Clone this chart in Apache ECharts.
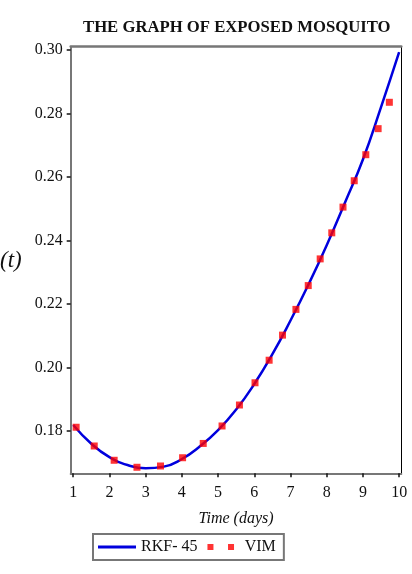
<!DOCTYPE html>
<html>
<head>
<meta charset="utf-8">
<script src="https://cdn.jsdelivr.net/npm/echarts@6/dist/echarts.min.js"></script>
<style>
  html, body { margin: 0; padding: 0; background: #fff; }
  #chart { width: 412px; height: 574px; }
</style>
</head>
<body>
<div id="chart"></div>
<script>
// RKF-45 curve
const rkfT = [1, 1.5, 2, 2.5, 3, 3.5, 4, 4.5, 5, 5.5, 6, 6.5, 7, 7.5, 8, 8.5, 9, 9.5, 10];
const rkfE = [0.1819, 0.1760, 0.1718, 0.1693, 0.1683, 0.1688, 0.1712, 0.1752, 0.1803, 0.1868,
              0.1948, 0.2042, 0.2148, 0.2262, 0.2385, 0.2518, 0.2655, 0.2820, 0.2993];

// VIM points
const vimT = [1.08, 1.58, 2.13, 2.76, 3.41, 4.02, 4.59, 5.11, 5.59, 6.02, 6.41,
              6.78, 7.15, 7.49, 7.82, 8.14, 8.45, 8.76, 9.08, 9.42, 9.73];
const vimE = [0.1812, 0.1753, 0.1708, 0.1686, 0.1690, 0.1716, 0.1761, 0.1816, 0.1882, 0.1952, 0.2023,
              0.2102, 0.2183, 0.2258, 0.2342, 0.2424, 0.2505, 0.2588, 0.2670, 0.2752, 0.2835];

const xTicks = [1, 2, 3, 4, 5, 6, 7, 8, 9, 10];
const yTicks = [0.18, 0.20, 0.22, 0.24, 0.26, 0.28, 0.30];

const serif = "'Liberation Serif', 'DejaVu Serif', serif";
const xMin = 0.93, xMax = 10.06, yMin = 0.1667, yMax = 0.301;

let myChart = echarts.init(document.getElementById("chart"));
let option = {
  backgroundColor: "#fff",
  animation: false,
  title: {
    text: "THE GRAPH OF EXPOSED MOSQUITO",
    left: 78,
    top: 14,
    textStyle: { fontFamily: serif, fontWeight: "bold", fontSize: 16.7, color: "#111" },
  },
  grid: { left: 70.7, right: 10.7, top: 46.7, bottom: 100.7 },
  legend: {
    left: 93,
    top: 534,
    width: 200,
    height: 26,
    padding: [5, 8, 5, 5],
    borderColor: "#777",
    borderWidth: 2,
    borderRadius: 0,
    itemGap: 10,
    itemWidth: 38,
    itemHeight: 6,
    textStyle: { fontFamily: serif, fontSize: 16, color: "#111" },
    data: [
      { name: "RKF- 45", icon: "path://M0,0H38V3H0Z", itemStyle: { color: "#0000dd" } },
      { name: "VIM", icon: "path://M0,0H7V7H0Z M24,0H31V7H24Z", itemStyle: { color: "#ff0000" } },
    ],
  },
  graphic: [
    {
      type: "text",
      left: -14,
      top: 249,
      style: { text: "E(t)", font: "italic 23px " + serif, fill: "#111" },
    },
  ],
  xAxis: [
    {
      type: "value",
      min: xMin,
      max: xMax,
      name: "Time (days)",
      nameLocation: "middle",
      nameGap: 37,
      nameTextStyle: { fontFamily: serif, fontStyle: "italic", fontSize: 16, color: "#111" },
      axisLine: { lineStyle: { color: "#777", width: 2 } },
      axisTick: { show: true, length: 4, customValues: xTicks, lineStyle: { color: "#111", width: 1.5 } },
      axisLabel: { customValues: xTicks, margin: 11, fontFamily: serif, fontSize: 16, color: "#111" },
      splitLine: { show: false },
    },
    {
      type: "value",
      position: "top",
      min: xMin,
      max: xMax,
      axisLine: { show: true, lineStyle: { color: "#777", width: 2.5 } },
      axisTick: { show: false },
      axisLabel: { show: false },
      splitLine: { show: false },
    },
  ],
  yAxis: [
    {
      type: "value",
      min: yMin,
      max: yMax,
      axisLine: { show: true, lineStyle: { color: "#777", width: 2 } },
      axisTick: { show: true, length: 4, customValues: yTicks, lineStyle: { color: "#111", width: 1.5 } },
      axisLabel: {
        customValues: yTicks,
        margin: 8,
        fontFamily: serif,
        fontSize: 16,
        color: "#111",
        formatter: (v) => v.toFixed(2),
      },
      splitLine: { show: false },
    },
    {
      type: "value",
      position: "right",
      min: yMin,
      max: yMax,
      axisLine: { show: true, lineStyle: { color: "#000", width: 1 } },
      axisTick: { show: false },
      axisLabel: { show: false },
      splitLine: { show: false },
    },
  ],
  series: [
    {
      name: "RKF- 45",
      type: "line",
      smooth: true,
      showSymbol: false,
      data: rkfT.map((t, i) => [t, rkfE[i]]),
      lineStyle: { color: "#0000dd", width: 2.5 },
      itemStyle: { color: "#0000dd" },
      z: 2,
    },
    {
      name: "VIM",
      type: "scatter",
      symbol: "rect",
      symbolSize: 7,
      data: vimT.map((t, i) => [t, vimE[i]]),
      itemStyle: { color: "#ff0000" },
      z: 3,
    },
  ],
};
myChart.setOption(option);
</script>
</body>
</html>
